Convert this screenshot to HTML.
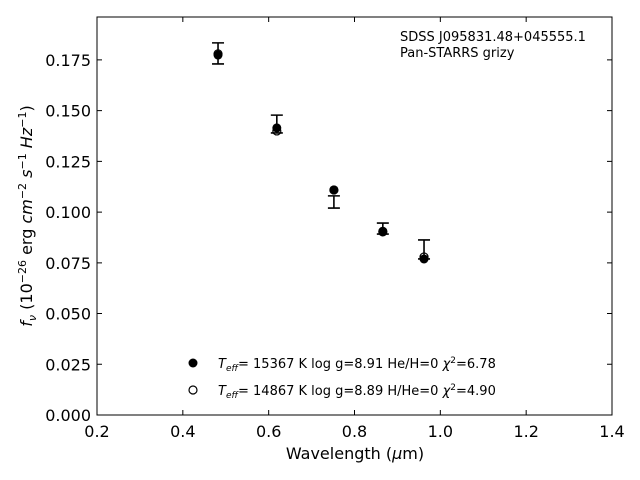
<!DOCTYPE html>
<html><head><meta charset="utf-8"><style>
body{margin:0;background:#fff;}
svg{display:block;font-family:"DejaVu Sans","Liberation Sans",sans-serif;}
</style></head><body>
<svg id="chart" width="640" height="480" viewBox="0 0 640 480">
<rect x="97" y="17" width="515" height="398" fill="#fff" stroke="#000" stroke-width="1"/>
<g id="ticks"></g>
<g id="marks"></g>
<text x="400" y="41" font-size="13">SDSS J095831.48+045555.1</text>
<text x="400" y="57" font-size="13">Pan-STARRS grizy</text>
<circle cx="193" cy="363" r="4.5" fill="#000"/>
<text x="218" y="368" font-size="13"><tspan font-style="italic">T</tspan><tspan font-style="italic" font-size="9" dy="3">eff</tspan><tspan dy="-3">= 15367 K  log g=8.91  He/H=0  </tspan><tspan font-style="italic">χ</tspan><tspan font-size="9" dy="-5">2</tspan><tspan dy="5">=6.78</tspan></text>
<circle cx="193" cy="390" r="4" fill="#fff" stroke="#000" stroke-width="1.2"/>
<text x="218" y="395" font-size="13"><tspan font-style="italic">T</tspan><tspan font-style="italic" font-size="9" dy="3">eff</tspan><tspan dy="-3">= 14867 K  log g=8.89  H/He=0  </tspan><tspan font-style="italic">χ</tspan><tspan font-size="9" dy="-5">2</tspan><tspan dy="5">=4.90</tspan></text>
<text x="355" y="459" font-size="16" text-anchor="middle">Wavelength (<tspan font-style="italic">μ</tspan>m)</text>
<text transform="translate(32,216) rotate(-90)" font-size="16" text-anchor="middle"><tspan font-style="italic">f</tspan><tspan font-style="italic" font-size="11" dy="4">ν</tspan><tspan dy="-4"> (10</tspan><tspan font-size="11" dy="-6">−26</tspan><tspan dy="6"> erg </tspan><tspan font-style="italic">cm</tspan><tspan font-size="11" dy="-6">−2</tspan><tspan dy="6"> </tspan><tspan font-style="italic">s</tspan><tspan font-size="11" dy="-6">−1</tspan><tspan dy="6"> </tspan><tspan font-style="italic">Hz</tspan><tspan font-size="11" dy="-6">−1</tspan><tspan dy="6">)</tspan></text>
</svg>
<script>
const wavelengths=[0.482,0.619,0.752,0.866,0.962];
const observed=[0.1782,0.1434,0.1050,0.0919,0.0816];
const errors=[0.0052,0.0044,0.0030,0.0027,0.0047];
const modelHe=[0.1780,0.1400,0.1109,0.0905,0.0779];
const modelH=[0.1774,0.1415,0.1109,0.0902,0.0769];
const xTicks=[0.2,0.4,0.6,0.8,1.0,1.2,1.4];
const yTicks=[0,0.025,0.05,0.075,0.1,0.125,0.15,0.175];
const NS="http://www.w3.org/2000/svg";
const X0=97,X1=612,Y0=415,Y1=17;
function sx(v){return X0+(v-0.2)/1.2*(X1-X0);}
function sy(v){return Y0-v*2029;}
function mk(tag,attrs,parent){const e=document.createElementNS(NS,tag);for(const k in attrs)e.setAttribute(k,attrs[k]);parent.appendChild(e);return e;}
const tg=document.getElementById('ticks'),mg=document.getElementById('marks');
xTicks.forEach(t=>{const x=sx(t);
 let l=mk('path',{d:`M${x},${Y0}v-5M${x},${Y1}v5`,stroke:'#000'},tg);
 
 
 let tx=mk('text',{x:x,y:437,'font-size':16,'text-anchor':'middle'},tg);tx.textContent=t.toFixed(1);
 
 
});
yTicks.forEach(t=>{const y=sy(t);
 let l=mk('path',{d:`M${X0},${y}h5M${X1},${y}h-5`,stroke:'#000'},tg);
 
 
 let tx=mk('text',{x:91,y:y+6,'font-size':16,'text-anchor':'end'},tg);tx.textContent=t.toFixed(3);
 
 
});
wavelengths.forEach((w,i)=>{const x=sx(w);
 let o=mk('circle',{cx:x,cy:sy(modelHe[i]),r:4,fill:'#fff',stroke:'#000','stroke-width':1.2},mg);
 
 
 let f=mk('circle',{cx:x,cy:sy(modelH[i]),r:4.5,fill:'#000'},mg);
 
 
 const t=sy(observed[i]+errors[i]),b=sy(observed[i]-errors[i]);
 let e=mk('path',{d:`M${x},${t}V${b}M${x-6},${t}h12M${x-6},${b}h12`,stroke:'#000','stroke-width':1.6,fill:'none'},mg);
 
 
});
</script>
</body></html>
